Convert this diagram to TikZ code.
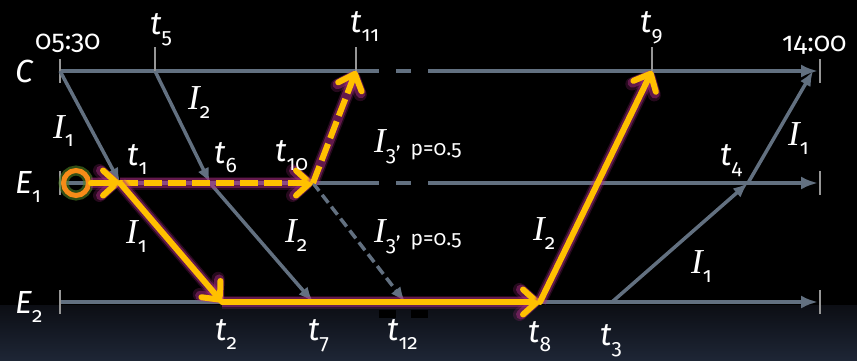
\documentclass[tikz,border=0pt]{standalone}
\usepackage{fontspec}
\setmainfont{Fira Sans}[Numbers=OldStyle]
\newfontfamily\serifit{Liberation Serif}
\usetikzlibrary{arrows.meta}

\definecolor{axisgray}{RGB}{98,112,128}
\definecolor{tickgray}{RGB}{150,150,150}
\definecolor{pathyellow}{RGB}{255,192,0}
\definecolor{glowpurple}{RGB}{175,45,135}
\definecolor{srcorange}{RGB}{247,140,24}
\definecolor{glowgreen}{RGB}{80,130,35}
\definecolor{bgtop}{RGB}{12,14,20}
\definecolor{bgnavy}{RGB}{30,38,54}

\newcommand{\mainsz}{\fontsize{32}{36}\selectfont}
\newcommand{\subsz}{\fontsize{21}{24}\selectfont}
\newcommand{\clocksz}{\fontsize{27}{30}\selectfont}
\newcommand{\probsz}{\fontsize{21}{24}\selectfont}
\newcommand{\evt}[2]{\textit{#1}\raisebox{-9pt}{\subsz #2}}
\newcommand{\intv}[1]{{\serifit\itshape\fontsize{35}{38}\selectfont I}\raisebox{-9pt}{\subsz #1}}

\tikzset{
  timeline/.style={draw=axisgray, line width=4pt, -{Latex[length=17pt,width=13pt]}},
  marker/.style={draw=tickgray, line width=1.5pt},
  msg/.style={draw=axisgray, line width=3.5pt, -{Latex[length=15pt,width=12pt]}},
  glow/.style={
    preaction={draw=glowpurple, line width=13pt, draw opacity=0.22, solid},
    preaction={draw=glowpurple, line width=10pt, draw opacity=0.45, solid}},
  route/.style={glow, draw=pathyellow, line width=6pt, line cap=round,
    -{Straight Barb[length=14pt,width=25pt,line cap=round,line join=round]}},
  guess/.style={route, dash pattern=on 18pt off 6pt, line cap=butt},
  srcring/.style={circle, draw=srcorange, line width=5pt, minimum size=25pt,
    inner sep=0pt, preaction={draw=glowgreen, line width=10pt, draw opacity=0.6}},
  lbl/.style={text=white, inner sep=0pt, anchor=base west, font=\mainsz},
}

\begin{document}
\begin{tikzpicture}[x=1pt, y=-1pt]

\useasboundingbox (0,0) rectangle (857,361);

% Fons
\shade[top color=bgtop, bottom color=bgnavy] (0,305) rectangle (857,361);
\fill[black] (0,0) rectangle (857,305);

% Punts dels eixos
\coordinate (c0) at (60,71);
\coordinate (cEnd) at (818,71);
\coordinate (e1s) at (60,183);
\coordinate (e1End) at (818,183);
\coordinate (e2s) at (60,302);
\coordinate (e2End) at (818,302);

% Instants
\coordinate (t1) at (120,183);
\coordinate (t2) at (222,302);
\coordinate (t3) at (612,302);
\coordinate (t4) at (748,183);
\coordinate (t5) at (155,71);
\coordinate (t6) at (210,183);
\coordinate (t7) at (313,302);
\coordinate (t8) at (540,302);
\coordinate (t9) at (652,71);
\coordinate (t10) at (313,183);
\coordinate (t11) at (356,71);
\coordinate (t12) at (405,302);
\coordinate (c14) at (813,71);

% Eixos de temps
\draw[timeline] (c0) -- (cEnd);
\draw[timeline] (e1s) -- (e1End);
\draw[timeline] (e2s) -- (e2End);

% Marques d'inici i final
\foreach \p in {c0,e1s,e2s}
  \draw[marker] (\p) ++(0,-12) -- ++(0,24);
\foreach \p in {cEnd,e1End,e2End}
  \draw[marker] (\p) ++(2,-12) -- ++(0,24);
\foreach \p in {t5,t11,t9}
  \draw[marker] (\p) -- ++(0,-24);

% Talls de l'eix
\foreach \xa/\xb in {379/396,411/428}{
  \fill[black] (\xa,66) rectangle (\xb,76);
  \fill[black] (\xa,178) rectangle (\xb,188);
  \fill[black] (\xa,310) rectangle (\xb,318);
}

% Missatges
\draw[msg] (c0) -- (t1);
\draw[msg] (t5) -- (t6);
\draw[msg] (t6) -- (t7);
\draw[msg, dash pattern=on 10pt off 5pt] (t10) -- (t12);
\draw[msg] (t3) -- (t4);
\draw[msg] (t4) -- (c14);

% Origen
\node[srcring] (src) at (76,183) {};

% Recorregut
\draw[route] (src.east) -- (t1);
\draw[guess] (t1) -- (t10);
\draw[guess] (t10) -- (t11);
\draw[route] (t1) -- (t2);
\draw[route] (t2) -- (t8);
\draw[route] (t8) -- (t9);

% Etiquetes
\node[lbl] (lblC) at (15,83) {\textit{C}};
\node[lbl] (lblE1) at (15,193) {\evt{E}{1}};
\node[lbl] (lblE2) at (15,313) {\evt{E}{2}};
\node[lbl, font=\clocksz] (lblStart) at (35,50) {05:30};
\node[lbl, font=\clocksz] (lblEnd) at (782,52) {14:00};

\node[lbl] (lblT1) at (127,165) {\evt{t}{1}};
\node[lbl] (lblT2) at (215,340) {\evt{t}{2}};
\node[lbl] (lblT3) at (600,345) {\evt{t}{3}};
\node[lbl] (lblT4) at (720,165) {\evt{t}{4}};
\node[lbl] (lblT5) at (150,35) {\evt{t}{5}};
\node[lbl] (lblT6) at (214,163) {\evt{t}{6}};
\node[lbl] (lblT7) at (308,340) {\evt{t}{7}};
\node[lbl] (lblT8) at (528,342) {\evt{t}{8}};
\node[lbl] (lblT9) at (640,33) {\evt{t}{9}};
\node[lbl] (lblT10) at (275,161) {\evt{t}{10}};
\node[lbl] (lblT11) at (350,33) {\evt{t}{11}};
\node[lbl] (lblT12) at (387,340) {\evt{t}{12}};

\node[lbl] (lblIa) at (53,138) {\intv{1}};
\node[lbl] (lblIb) at (188,110) {\intv{2}};
\node[lbl] (lblIc) at (126,243) {\intv{1}};
\node[lbl] (lblId) at (285,242) {\intv{2}};
\node[lbl] (lblIe) at (533,240) {\intv{2}};
\node[lbl] (lblIf) at (691,273) {\intv{1}};
\node[lbl] (lblIg) at (788,145) {\intv{1}};
\node[lbl] (lblPa) at (374,152)
  {\intv{3’}\hspace{10pt}\raisebox{-3pt}{\probsz p=0.5}};
\node[lbl] (lblPb) at (374,242)
  {\intv{3’}\hspace{10pt}\raisebox{-3pt}{\probsz p=0.5}};

\end{tikzpicture}
\end{document}
